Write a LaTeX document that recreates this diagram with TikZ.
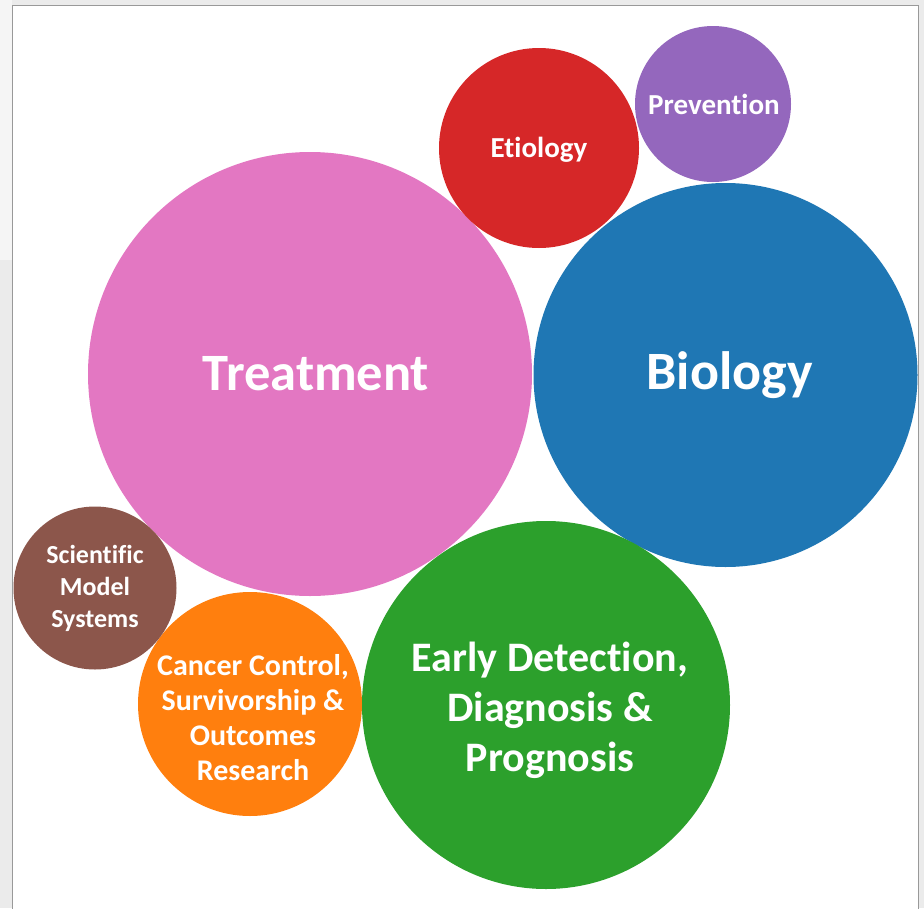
\documentclass[tikz,border=0pt]{standalone}
\usepackage{fontspec}
\setmainfont{Carlito}[Ligatures=NoCommon]
\definecolor{cblue}{HTML}{1F77B4}
\definecolor{corange}{HTML}{FF7F0E}
\definecolor{cgreen}{HTML}{2CA02C}
\definecolor{cred}{HTML}{D62728}
\definecolor{cpurple}{HTML}{9467BD}
\definecolor{cbrown}{HTML}{8C564B}
\definecolor{cpink}{HTML}{E377C2}
\tikzset{
  bubble/.style={circle, inner sep=0pt},
  lbl/.style={text=white, align=center, inner sep=0pt},
}
\begin{document}
\begin{tikzpicture}[x=1pt,y=-1pt]
\useasboundingbox (0,0) rectangle (924,908);
\fill[black!8] (0,0) rectangle (924,908);
\fill[black!4] (0,0) rectangle (12,260);
\draw[black!40, fill=white] (12,5) rectangle (918,912);
\node[bubble, fill=cpink, minimum size=444pt] (treat) at (310,374) {};
\node[bubble, fill=cblue, minimum size=384pt] (bio) at (725.5,375) {};
\node[bubble, fill=cred, minimum size=200pt] (etio) at (539,148) {};
\node[bubble, fill=cpurple, minimum size=156pt] (prev) at (713,104) {};
\node[bubble, fill=cgreen, minimum size=368pt] (early) at (546,705) {};
\node[bubble, fill=corange, minimum size=224pt] (cancer) at (250,704) {};
\node[bubble, fill=cbrown, minimum size=163pt] (sci) at (95,588) {};
\node[lbl, font=\bfseries\fontsize{52.5}{60}\selectfont] (treattxt) at ([xshift=6pt]treat.center) {Treatment};
\node[lbl, font=\bfseries\fontsize{54}{60}\selectfont] (biotxt) at ([xshift=4pt]bio.center) {Biology};
\node[lbl, font=\bfseries\fontsize{29}{35}\selectfont] (etiotxt) at ([yshift=-2pt]etio.center) {Etiology};
\node[lbl, font=\bfseries\fontsize{29}{35}\selectfont] (prevtxt) at ([xshift=1pt]prev.center) {Prevention};
\node[lbl, font=\bfseries\fontsize{42}{50}\selectfont] (earlytxt) at ([xshift=4pt,yshift=-5pt]early.center) {Early Detection,\\Diagnosis \&\\Prognosis};
\node[lbl, font=\bfseries\fontsize{30}{35}\selectfont] (cancertxt) at ([xshift=3pt,yshift=-14pt]cancer.center) {Cancer Control,\\Survivorship \&\\Outcomes\\Research};
\node[lbl, font=\bfseries\fontsize{26}{32}\selectfont] (scitxt) at (sci.center) {Scientific\\Model\\Systems};
\end{tikzpicture}
\end{document}
